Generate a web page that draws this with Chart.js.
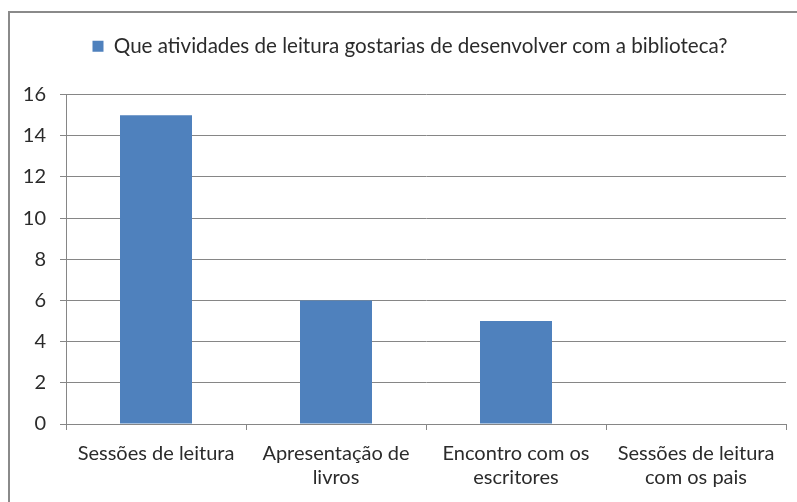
<!DOCTYPE html>
<html lang="pt">
<head>
  <meta charset="UTF-8">
  <title>Atividades de leitura</title>
  <style>
    html, body {
      margin: 0;
      padding: 0;
      background: #ffffff;
      overflow: hidden;
    }
    .frame {
      position: absolute;
      left: 8px;
      top: 11px;
      width: 820px;
      height: 520px;
      border: 2px solid #8a8a8a;
      box-sizing: border-box;
      pointer-events: none;
    }
    .chart-container {
      position: absolute;
      left: 0;
      top: 0;
      width: 797px;
      height: 502px;
    }
  </style>
</head>
<body>
  <div class="chart-container">
    <canvas id="readingChart"></canvas>
  </div>
  <div class="frame"></div>

  <script src="https://cdn.jsdelivr.net/npm/chart.js"></script>
  <script>
    const seriesName = 'Que atividades de leitura gostarias de desenvolver com a biblioteca?';
    const categories = [
      'Sessões de leitura',
      ['Apresentação de', 'livros'],
      ['Encontro com os', 'escritores'],
      ['Sessões de leitura', 'com os pais']
    ];
    const answers = [15, 6, 5, 0];
    const yTicks = [0, 2, 4, 6, 8, 10, 12, 14, 16];

    const gridGray = '#868686';
    const textColor = '#2b2b2b';
    const fontFamily = 'Lato, "Open Sans", sans-serif';

    // push the plot area down below the legend, and nudge the legend right
    const legendGap = {
      id: 'legendGap',
      beforeInit(chart) {
        const fit = chart.legend.fit;
        chart.legend.fit = function () {
          fit.bind(chart.legend)();
          this.height += 28;
        };
      },
      afterLayout(chart) {
        chart.legend.left += 34;
      }
    };

    const ctx = document.getElementById('readingChart').getContext('2d');
    new Chart(ctx, {
      type: 'bar',
      data: {
        labels: categories,
        datasets: [{
          label: seriesName,
          data: answers,
          backgroundColor: '#4f81bd',
          categoryPercentage: 1,
          barPercentage: 0.4
        }]
      },
      options: {
        responsive: true,
        maintainAspectRatio: false,
        animation: false,
        layout: {
          padding: { top: 26, right: 11, bottom: 0, left: 0 }
        },
        plugins: {
          legend: {
            display: true,
            position: 'top',
            labels: {
              color: textColor,
              boxWidth: 11,
              boxHeight: 11,
              padding: 10,
              font: { family: fontFamily, size: 20.6 }
            }
          },
          tooltip: { enabled: false }
        },
        scales: {
          x: {
            afterFit: s => { s.height = 78; },
            grid: {
              display: true,
              drawOnChartArea: false,
              offset: true,
              tickLength: 6,
              color: gridGray
            },
            border: { color: gridGray, width: 1 },
            ticks: {
              color: textColor,
              padding: 12,
              maxRotation: 0,
              autoSkip: false,
              font: { family: fontFamily, size: 20, lineHeight: 1.2 }
            }
          },
          y: {
            min: 0,
            max: 16,
            afterFit: s => { s.width = 66; },
            afterBuildTicks: s => { s.ticks = yTicks.map(v => ({ value: v })); },
            grid: {
              color: gridGray,
              tickLength: 6
            },
            border: { color: gridGray, width: 1 },
            ticks: {
              color: textColor,
              padding: 14,
              font: { family: fontFamily, size: 20 }
            }
          }
        }
      },
      plugins: [legendGap]
    });
  </script>
</body>
</html>
